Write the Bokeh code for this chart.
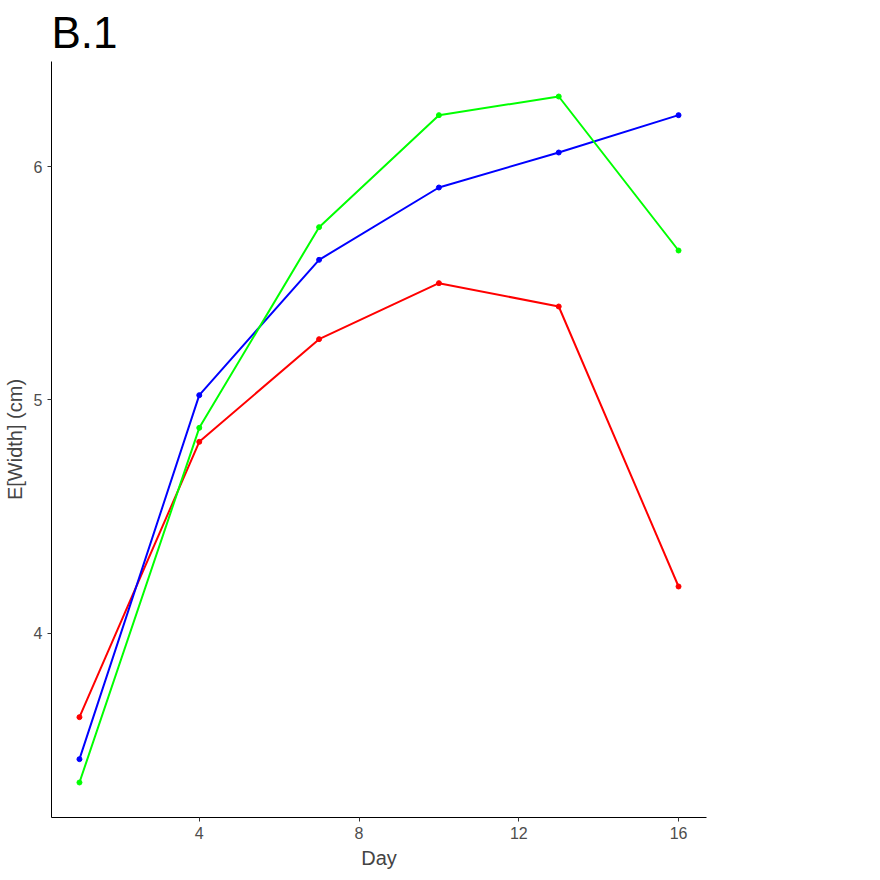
from bokeh.plotting import figure
from bokeh.models import Range1d, FixedTicker, Legend, LegendItem
from bokeh.embed import file_html
from bokeh.resources import INLINE

days = [1, 4, 7, 10, 13, 16]
acidic = [3.64, 4.82, 5.26, 5.50, 5.40, 4.20]
basic = [3.46, 5.02, 5.60, 5.91, 6.06, 6.22]
control = [3.36, 4.88, 5.74, 6.22, 6.30, 5.64]

series = [("Acidic", acidic, "#ff0000"), ("Basic", basic, "#0000ff"), ("Control", control, "#00ff00")]

p = figure(frame_width=655, frame_height=756, output_backend="svg", toolbar_location=None,
           x_range=Range1d(0.3, 16.7), y_range=Range1d(3.21, 6.45),
           min_border_left=40, min_border_bottom=50, min_border_top=0, min_border_right=0)
p.title.text = "B.1"
p.title.text_font = "Arial"
p.title.text_font_size = "44px"
p.title.text_font_style = "normal"
p.title.text_color = "black"
p.title.offset = 0

items = []
for name, vals, col in series:
    l = p.line(days, vals, line_color=col, line_width=2)
    c = p.scatter(days, vals, fill_color=col, line_color=col, size=5)
    items.append(LegendItem(label=name, renderers=[l, c]))

legend = Legend(items=items, title="Treatment", location="center", border_line_color=None,
                label_text_font_size="20px", title_text_font_size="20px",
                label_text_font="Arial", title_text_font="Arial",
                glyph_width=26, spacing=0, padding=6, margin=4, label_height=18)
p.add_layout(legend, "right")

p.xaxis.ticker = FixedTicker(ticks=[4, 8, 12, 16])
p.yaxis.ticker = FixedTicker(ticks=[4, 5, 6])
p.xaxis.axis_label = "Day"
p.yaxis.axis_label = "E[Width] (cm)"
for ax in (p.xaxis, p.yaxis):
    ax.axis_label_text_font = "Arial"
    ax.axis_label_text_font_size = "20px"
    ax.axis_label_text_font_style = "normal"
    ax.major_label_text_font = "Arial"
    ax.major_label_text_font_size = "16px"
    ax.major_label_text_color = "#4d4d4d"
    ax.minor_tick_line_color = None
    ax.major_tick_out = 4
    ax.major_tick_in = 0
    ax.axis_line_color = "black"
    ax.major_tick_line_color = "#333333"
p.grid.visible = False
p.outline_line_color = None

open("out.html", "w").write(file_html(p, INLINE))
